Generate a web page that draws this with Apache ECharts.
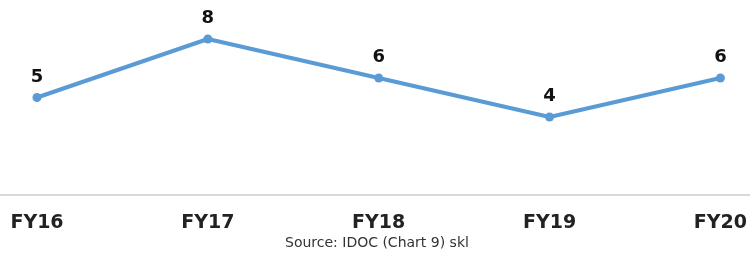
<!DOCTYPE html>
<html>
<head>
<meta charset="utf-8">
<script src="https://cdn.jsdelivr.net/npm/echarts@6/dist/echarts.min.js"></script>
<style>
  html, body { margin: 0; padding: 0; background: #fff; }
  #chart { width: 750px; height: 256px; }
</style>
</head>
<body>
<div id="chart"></div>
<script>
var years = ['FY16', 'FY17', 'FY18', 'FY19', 'FY20'];
var counts = [5, 8, 6, 4, 6];
var sourceNote = 'Source: IDOC (Chart 9) skl';

var myChart = echarts.init(document.getElementById('chart'));

var option = {
	animation: false,
	grid: { left: 37, right: 27, top: 0, bottom: 61 },
	// faint base line running the full width, like the original
	graphic: [
		{
			type: 'line',
			shape: { x1: 0, y1: 195, x2: 750, y2: 195 },
			style: { stroke: '#d9d9d9', lineWidth: 2 },
			z: 0
		},
		{
			type: 'text',
			left: 285,
			top: 236,
			style: {
				text: sourceNote,
				fill: '#333',
				font: '14px "DejaVu Sans"'
			}
		}
	],
	xAxis: {
		type: 'category',
		data: years,
		boundaryGap: false,
		axisLine: { show: false },
		axisTick: { show: false },
		axisLabel: {
			margin: 19,
			color: '#222',
			fontFamily: 'DejaVu Sans',
			fontWeight: 'bold',
			fontSize: 19
		}
	},
	yAxis: {
		type: 'value',
		min: 0,
		max: 10,
		show: false,
		splitLine: { show: false }
	},
	series: [
		{
			type: 'line',
			data: counts,
			symbol: 'circle',
			symbolSize: 9,
			itemStyle: { color: '#5b9bd5' },
			lineStyle: { color: '#5b9bd5', width: 4 },
			label: {
				show: true,
				position: 'top',
				distance: 7,
				color: '#111',
				fontFamily: 'DejaVu Sans',
				fontWeight: 'bold',
				fontSize: 18
			}
		}
	]
};
myChart.setOption(option);
</script>
</body>
</html>
